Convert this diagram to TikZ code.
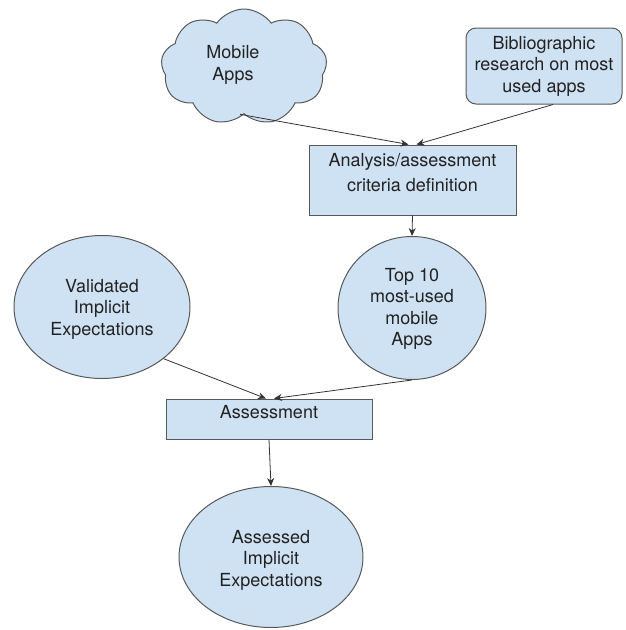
\documentclass[tikz,border=0pt]{standalone}
\usepackage{fontspec}
\setmainfont{TeX Gyre Heros}
\usetikzlibrary{shapes.symbols,shapes.geometric,arrows.meta}
\definecolor{fillb}{HTML}{CFE2F3}
\definecolor{edgec}{HTML}{595959}
\definecolor{txt}{HTML}{222222}
\begin{document}
\begin{tikzpicture}[x=1pt,y=-1pt,
 shp/.style={draw=edgec, fill=fillb, line width=1pt},
 lbl/.style={text=txt, font=\fontsize{18}{21.5}\selectfont, align=center, inner sep=0pt},
 conn/.style={draw=black!80, line width=0.8pt, -{Stealth[length=8pt,width=7pt]}}]
\useasboundingbox (0,0) rectangle (626,630);
\node[shp, cloud, cloud puffs=9, cloud puff arc=110, aspect=1.45, minimum width=166pt, minimum height=116pt, inner sep=0pt] (cloud) at (244,67) {};
\node[shp, rounded corners=10pt, minimum width=156pt, minimum height=76pt] (bib) at (544,66) {};
\node[shp, minimum width=207pt, minimum height=70pt] (ana) at (412.5,180) {};
\node[shp, ellipse, minimum width=148pt, minimum height=143pt] (top) at (412,308) {};
\node[shp, ellipse, minimum width=176pt, minimum height=143pt] (val) at (102,307) {};
\node[shp, minimum width=206pt, minimum height=40pt] (ass) at (269,419) {};
\node[shp, ellipse, minimum width=184pt, minimum height=141pt] (assd) at (271,557) {};

\node[lbl] (tcloud) at (233,65) {Mobile\\Apps};
\node[lbl] (tbib) at (544,66) {Bibliographic\\research on most\\used apps};
\node[lbl, font=\fontsize{18}{25}\selectfont] (tana) at (412.5,172.5) {Analysis/assessment\\criteria definition};
\node[lbl] (ttop) at (412,309) {Top 10\\most-used\\mobile\\Apps};
\node[lbl] (tval) at (102,309) {Validated\\Implicit\\Expectations};
\node[lbl] (tass) at (269,412) {Assessment};
\node[lbl] (tassd) at (271,560) {Assessed\\Implicit\\Expectations};

\draw[conn] ([xshift=-4pt]cloud.south) -- ([xshift=-4pt]ana.north);
\draw[conn] ([xshift=9pt]bib.south) -- ([xshift=4pt]ana.north);
\draw[conn] (ana.south) -- (top.north);
\draw[conn] (val.-40) -- ([xshift=-3pt]ass.north);
\draw[conn] (top.south) -- ([xshift=5pt]ass.north);
\draw[conn] (ass.south) -- (assd.north);
\end{tikzpicture}
\end{document}
